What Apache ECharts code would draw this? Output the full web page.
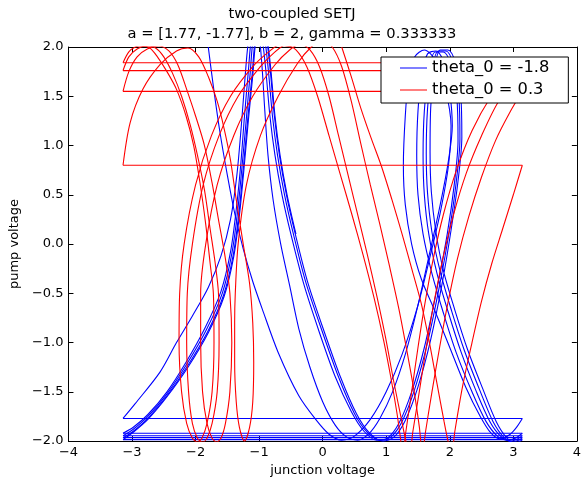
<!DOCTYPE html>
<html><head><meta charset="utf-8">
<script src="https://cdn.jsdelivr.net/npm/echarts@6/dist/echarts.min.js"></script>
<style>html,body{margin:0;padding:0;background:#fff}#c{width:584px;height:482px}</style>
</head><body><div id="c"></div>
<script>
const PI = 3.1416;
const xTicks = [-4, -3, -2, -1, 0, 1, 2, 3, 4];
const xTickLabels = ['\u22124', '\u22123', '\u22122', '\u22121', '0', '1', '2', '3', '4'];
const yTicks = [-2, -1.5, -1, -0.5, 0, 0.5, 1, 1.5, 2];
const yTickLabels = ['\u22122.0', '\u22121.5', '\u22121.0', '\u22120.5', '0.0', '0.5', '1.0', '1.5', '2.0'];
const seriesNames = ['theta_0 = -1.8', 'theta_0 = 0.3'];
const titleLines = ['two-coupled SETJ', 'a = [1.77, -1.77], b = 2, gamma = 0.333333'];

// heights at which each trajectory wraps from +pi to -pi
const blueWraps = [-1.77, -1.92, -1.945, -1.965, -1.985];
const redWraps = [0.8, 1.55, 1.76, 1.84];

// blue trajectory (theta_0 = -1.8), split at each wrap
const blueRev0 = [[-1.8,2.0],[-1.72,1.6],[-1.62,1.15],[-1.5,0.7],[-1.38,0.3],[-1.25,-0.05],[-1.1,-0.38],[-0.95,-0.66],[-0.7,-1.1],[-0.375,-1.54],[-0.11,-1.78],[0.1,-1.93],[0.3,-1.99],[0.5,-1.95],[0.75,-1.78],[1.0,-1.5],[1.25,-1.12],[1.5,-0.62],[1.7,-0.1],[1.86,0.35],[1.98,0.8],[2.02,1.2],[1.93,1.58],[1.78,1.86],[1.6,1.97],[1.45,1.9],[1.35,1.65],[1.3,1.3],[1.27,0.8],[1.3,0.4],[1.4,0.0],[1.55,-0.35],[1.78,-0.7],[2.0,-1.05],[2.25,-1.45],[2.48,-1.75],[2.65,-1.92],[2.8,-1.98],[2.95,-1.93],[3.05,-1.86],[3.1416,-1.77]];
const blueRev1 = [[-3.1416,-1.77],[-2.95,-1.62],[-2.56,-1.3],[-2.3,-1.0],[-2.05,-0.73],[-1.8,-0.44],[-1.6,-0.12],[-1.45,0.25],[-1.35,0.7],[-1.28,1.2],[-1.22,1.7],[-1.17,2.05],[-1.1,2.25],[-1.02,2.2],[-0.96,1.85],[-0.91,1.35],[-0.86,0.9],[-0.78,0.45],[-0.66,0.0],[-0.52,-0.42],[-0.375,-0.86],[-0.2,-1.25],[0.0,-1.6],[0.2,-1.84],[0.38,-1.96],[0.55,-1.99],[0.72,-1.93],[0.9,-1.77],[1.1,-1.5],[1.3,-1.12],[1.5,-0.62],[1.68,-0.1],[1.85,0.4],[1.98,0.85],[2.04,1.2],[2.0,1.55],[1.92,1.83],[1.78,1.96],[1.65,1.93],[1.56,1.72],[1.5,1.35],[1.48,0.9],[1.5,0.5],[1.58,0.1],[1.72,-0.3],[1.9,-0.7],[2.1,-1.1],[2.35,-1.5],[2.57,-1.8],[2.75,-1.95],[2.9,-1.99],[3.03,-1.97],[3.1416,-1.92]];
const blueRev2 = [[-3.1416,-1.92],[-2.98,-1.86],[-2.75,-1.73],[-2.45,-1.5],[-2.15,-1.2],[-1.85,-0.85],[-1.6,-0.48],[-1.45,-0.08],[-1.36,0.35],[-1.29,0.8],[-1.23,1.3],[-1.17,1.75],[-1.12,2.1],[-1.05,2.25],[-0.97,2.15],[-0.9,1.8],[-0.83,1.3],[-0.75,0.9],[-0.64,0.5],[-0.5,0.1],[-0.3,-0.4],[-0.05,-0.9],[0.2,-1.35],[0.45,-1.7],[0.65,-1.9],[0.85,-1.99],[1.02,-1.97],[1.2,-1.82],[1.4,-1.5],[1.6,-1.05],[1.8,-0.45],[1.96,0.1],[2.07,0.6],[2.13,1.05],[2.11,1.5],[2.03,1.8],[1.9,1.95],[1.77,1.95],[1.67,1.75],[1.6,1.35],[1.58,0.9],[1.6,0.5],[1.67,0.1],[1.8,-0.3],[1.98,-0.7],[2.18,-1.1],[2.42,-1.5],[2.63,-1.8],[2.8,-1.95],[2.95,-2.0],[3.06,-1.98],[3.1416,-1.945]];
const blueRev3 = [[-3.1416,-1.945],[-2.98,-1.88],[-2.75,-1.75],[-2.45,-1.52],[-2.14,-1.22],[-1.83,-0.87],[-1.58,-0.5],[-1.43,-0.1],[-1.34,0.32],[-1.27,0.78],[-1.2,1.28],[-1.14,1.74],[-1.09,2.1],[-1.01,2.25],[-0.93,2.15],[-0.86,1.8],[-0.79,1.3],[-0.71,0.9],[-0.6,0.5],[-0.46,0.1],[-0.26,-0.4],[0.0,-0.9],[0.25,-1.35],[0.5,-1.72],[0.7,-1.91],[0.9,-1.99],[1.07,-1.96],[1.25,-1.8],[1.45,-1.47],[1.65,-1.0],[1.84,-0.42],[1.99,0.12],[2.1,0.62],[2.16,1.07],[2.14,1.52],[2.06,1.82],[1.94,1.96],[1.82,1.96],[1.72,1.77],[1.65,1.37],[1.63,0.92],[1.65,0.52],[1.72,0.12],[1.85,-0.28],[2.03,-0.68],[2.23,-1.08],[2.47,-1.48],[2.68,-1.8],[2.85,-1.96],[2.99,-2.01],[3.09,-1.99],[3.1416,-1.965]];
const blueRev4 = [[-3.1416,-1.965],[-2.98,-1.9],[-2.75,-1.77],[-2.45,-1.54],[-2.13,-1.24],[-1.81,-0.89],[-1.56,-0.52],[-1.41,-0.12],[-1.32,0.3],[-1.25,0.76],[-1.18,1.26],[-1.11,1.72],[-1.06,2.08],[-0.98,2.25],[-0.9,2.15],[-0.83,1.8],[-0.76,1.3],[-0.68,0.9],[-0.57,0.5],[-0.43,0.1],[-0.23,-0.4],[0.03,-0.9],[0.28,-1.35],[0.53,-1.72],[0.74,-1.92],[0.95,-2.0],[1.12,-1.96],[1.3,-1.79],[1.5,-1.45],[1.7,-0.97],[1.88,-0.4],[2.02,0.14],[2.13,0.64],[2.19,1.09],[2.17,1.54],[2.09,1.84],[1.97,1.97],[1.85,1.97],[1.76,1.78],[1.7,1.38],[1.69,0.93],[1.71,0.53],[1.78,0.13],[1.9,-0.27],[2.08,-0.67],[2.28,-1.07],[2.52,-1.47],[2.73,-1.8],[2.9,-1.97],[3.03,-2.02],[3.11,-2.0],[3.1416,-1.985]];
const blueRev5 = [[-3.1416,-1.985],[-2.98,-1.91],[-2.75,-1.78],[-2.45,-1.55],[-2.12,-1.25],[-1.8,-0.9],[-1.55,-0.53],[-1.4,-0.13],[-1.31,0.29],[-1.24,0.75],[-1.17,1.25],[-1.1,1.71],[-1.05,2.07],[-0.97,2.25],[-0.89,2.15],[-0.82,1.8],[-0.75,1.3],[-0.67,0.9],[-0.56,0.5],[-0.42,0.1]];

// red trajectory (theta_0 = 0.3), split at each wrap
const redRev0 = [[0.3,2.0],[0.45,1.7],[0.6,1.38],[0.76,1.08],[0.93,0.78],[1.09,0.45],[1.25,0.1],[1.41,-0.27],[1.55,-0.6],[1.68,-1.0],[1.8,-1.42],[1.91,-1.8],[1.98,-2.02],[2.03,-2.12],[2.08,-1.9],[2.2,-1.45],[2.35,-1.0],[2.5,-0.58],[2.66,-0.2],[2.83,0.15],[3.0,0.5],[3.1416,0.8]];
const redRev1 = [[-3.1416,0.8],[-3.03,1.23],[-2.83,1.57],[-2.56,1.82],[-2.3,1.96],[-2.12,1.99],[-1.95,1.9],[-1.8,1.7],[-1.66,1.45],[-1.55,1.17],[-1.45,0.85],[-1.36,0.45],[-1.25,0.0],[-1.15,-0.4],[-1.1,-0.8],[-1.085,-1.2],[-1.1,-1.6],[-1.15,-1.86],[-1.23,-2.0],[-1.31,-1.86],[-1.36,-1.6],[-1.385,-1.2],[-1.385,-0.8],[-1.375,-0.5],[-1.33,0.0],[-1.2,0.6],[-0.98,1.1],[-0.7,1.5],[-0.4,1.83],[-0.18,2.0],[0.0,2.07],[0.15,2.0],[0.3,1.8],[0.45,1.45],[0.6,1.02],[0.75,0.6],[0.9,0.2],[1.05,-0.22],[1.2,-0.66],[1.33,-1.1],[1.44,-1.5],[1.52,-1.85],[1.57,-2.12],[1.62,-1.9],[1.72,-1.5],[1.84,-1.05],[1.97,-0.6],[2.12,-0.15],[2.3,0.28],[2.5,0.68],[2.72,1.05],[2.94,1.33],[3.1416,1.55]];
const redRev2 = [[-3.1416,1.55],[-3.05,1.75],[-2.92,1.9],[-2.76,1.98],[-2.58,2.01],[-2.42,1.96],[-2.28,1.82],[-2.14,1.57],[-2.0,1.3],[-1.86,1.0],[-1.74,0.62],[-1.64,0.25],[-1.53,-0.15],[-1.46,-0.5],[-1.43,-1.0],[-1.46,-1.5],[-1.53,-1.82],[-1.6,-1.97],[-1.67,-2.01],[-1.74,-1.97],[-1.82,-1.82],[-1.89,-1.5],[-1.92,-1.0],[-1.92,-0.5],[-1.84,0.0],[-1.66,0.6],[-1.4,1.1],[-1.1,1.5],[-0.75,1.82],[-0.52,1.97],[-0.35,2.03],[-0.2,1.97],[-0.05,1.8],[0.1,1.5],[0.25,1.1],[0.4,0.7],[0.55,0.3],[0.7,-0.1],[0.85,-0.52],[0.99,-0.95],[1.12,-1.4],[1.23,-1.75],[1.31,-2.0],[1.37,-2.12],[1.42,-1.9],[1.52,-1.5],[1.63,-1.05],[1.75,-0.6],[1.89,-0.15],[2.06,0.3],[2.26,0.72],[2.5,1.1],[2.77,1.45],[3.1416,1.76]];
const redRev3 = [[-3.1416,1.76],[-3.05,1.9],[-2.92,1.98],[-2.78,2.01],[-2.63,1.99],[-2.5,1.9],[-2.36,1.73],[-2.22,1.5],[-2.08,1.2],[-1.97,0.9],[-1.86,0.55],[-1.77,0.15],[-1.69,-0.2],[-1.64,-0.5],[-1.63,-1.0],[-1.66,-1.5],[-1.74,-1.82],[-1.82,-1.97],[-1.89,-2.01],[-1.97,-1.97],[-2.05,-1.82],[-2.11,-1.5],[-2.14,-1.0],[-2.13,-0.5],[-2.05,0.0],[-1.88,0.6],[-1.63,1.1],[-1.33,1.5],[-0.98,1.8],[-0.75,1.95],[-0.58,2.02],[-0.42,1.97],[-0.25,1.8],[-0.08,1.5],[0.1,1.1],[0.28,0.7],[0.46,0.3],[0.64,-0.12],[0.81,-0.55],[0.96,-0.98],[1.08,-1.38],[1.17,-1.72],[1.22,-1.95],[1.26,-2.12],[1.31,-1.9],[1.4,-1.5],[1.5,-1.05],[1.61,-0.6],[1.74,-0.15],[1.9,0.3],[2.1,0.74],[2.35,1.15],[2.65,1.5],[2.9,1.7],[3.1416,1.84]];
const redRev4 = [[-3.1416,1.84],[-3.05,1.95],[-2.95,2.0],[-2.85,2.01],[-2.72,1.99],[-2.6,1.9],[-2.45,1.75],[-2.3,1.57],[-2.15,1.3],[-2.03,1.0],[-1.93,0.62],[-1.84,0.2],[-1.77,-0.2],[-1.72,-0.5],[-1.71,-1.0],[-1.74,-1.5],[-1.82,-1.82],[-1.9,-1.97],[-1.97,-2.01],[-2.05,-1.97],[-2.14,-1.82],[-2.22,-1.5],[-2.26,-1.0],[-2.25,-0.5],[-2.18,0.0],[-2.0,0.6],[-1.75,1.1],[-1.45,1.5],[-1.1,1.8],[-0.85,1.95],[-0.68,2.02],[-0.5,2.0]];

const blueColor = '#0000ff';
const redColor = '#ff0000';
const FONT = 'DejaVu Sans';
// legend sample: a thin horizontal bar centred in a 27x16 box (corner points only set the extent)
const legendLineIcon = 'path://M0,0L0,0ZM0,7.45L27,7.45L27,8.55L0,8.55ZM27,16L27,16Z';

function curve(name, color, data) {
  return { type: 'line', name: name, data: data, symbol: 'none', smooth: 0.3, clip: true,
    lineStyle: { color: color, width: 1.1 }, itemStyle: { color: color }, silent: true,
    xAxisIndex: 0, yAxisIndex: 0, animation: false };
}
function wrapLine(name, color, y) {
  return { type: 'line', name: name, data: [[-PI, y], [PI, y]], symbol: 'none', smooth: false, clip: true,
    lineStyle: { color: color, width: 1.1 }, itemStyle: { color: color }, silent: true,
    xAxisIndex: 0, yAxisIndex: 0, animation: false };
}

const series = [];
[blueRev0, blueRev1, blueRev2, blueRev3, blueRev4, blueRev5].forEach(d => series.push(curve(seriesNames[0], blueColor, d)));
blueWraps.forEach(y => series.push(wrapLine(seriesNames[0], blueColor, y)));
[redRev0, redRev1, redRev2, redRev3, redRev4].forEach(d => series.push(curve(seriesNames[1], redColor, d)));
redWraps.forEach(y => series.push(wrapLine(seriesNames[1], redColor, y)));

const tickStyle = { show: true, inside: true, length: 5, lineStyle: { color: '#000', width: 1 } };
const lineStyleAx = { show: true, onZero: false, lineStyle: { color: '#000', width: 1 } };

const chart = echarts.init(document.getElementById('c'), null, { renderer: 'canvas' });
chart.setOption({
  animation: false,
  backgroundColor: '#fff',
  title: {
    text: titleLines.join('\n'), left: 'center', top: 4, padding: 0,
    textStyle: { fontFamily: FONT, fontSize: 14.7, fontWeight: 'normal', color: '#000', lineHeight: 20 }
  },
  legend: {
    data: seriesNames.map(n => ({ name: n, icon: legendLineIcon })),
    orient: 'vertical', left: 381, top: 57,
    backgroundColor: '#fff', borderColor: '#000', borderWidth: 1, borderRadius: 0,
    padding: [3, 19, 5, 19], itemWidth: 27, itemHeight: 16, itemGap: 6,
    textStyle: { fontFamily: FONT, fontSize: 16.3, color: '#000' }
  },
  grid: { left: 68, right: 4, top: 47, bottom: 40, containLabel: false },
  xAxis: [
    { type: 'value', min: xTicks[0], max: xTicks[xTicks.length - 1], interval: 1, position: 'bottom',
      axisLine: lineStyleAx, axisTick: tickStyle, splitLine: { show: false },
      axisLabel: { fontFamily: FONT, fontSize: 13, color: '#000', margin: 5,
        formatter: v => xTickLabels[xTicks.indexOf(v)] },
      name: 'junction voltage', nameLocation: 'middle', nameGap: 16,
      nameTextStyle: { fontFamily: FONT, fontSize: 13, color: '#000' } },
    { type: 'value', min: xTicks[0], max: xTicks[xTicks.length - 1], interval: 1, position: 'top',
      axisLine: lineStyleAx, axisTick: tickStyle, splitLine: { show: false }, axisLabel: { show: false } }
  ],
  yAxis: [
    { type: 'value', min: yTicks[0], max: yTicks[yTicks.length - 1], interval: 0.5, position: 'left',
      axisLine: lineStyleAx, axisTick: tickStyle, splitLine: { show: false },
      axisLabel: { fontFamily: FONT, fontSize: 13, color: '#000', margin: 5,
        formatter: v => yTickLabels[yTicks.indexOf(v)] },
      name: 'pump voltage', nameLocation: 'middle', nameGap: 36, nameRotate: 90,
      nameTextStyle: { fontFamily: FONT, fontSize: 13, color: '#000' } },
    { type: 'value', min: yTicks[0], max: yTicks[yTicks.length - 1], interval: 0.5, position: 'right',
      axisLine: lineStyleAx, axisTick: tickStyle, splitLine: { show: false }, axisLabel: { show: false } }
  ],
  series: series
});
</script>
</body></html>
